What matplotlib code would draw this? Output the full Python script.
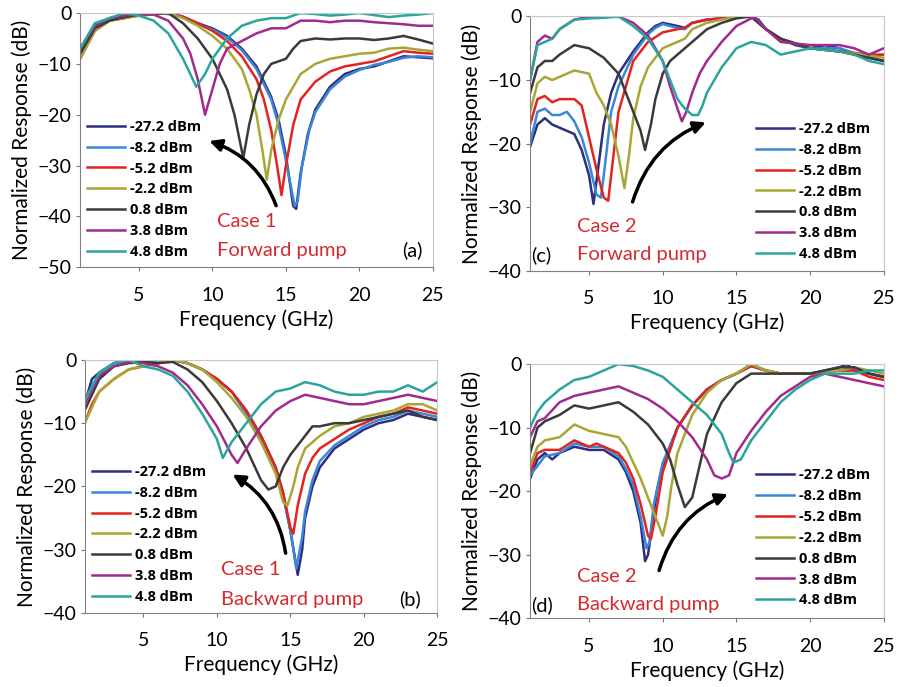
import matplotlib
matplotlib.use("Agg")
import matplotlib.pyplot as plt

plt.rcParams['font.family'] = ['Lato', 'DejaVu Sans']

# pump powers (legend) and line colours
labels = ['-27.2 dBm', '-8.2 dBm', '-5.2 dBm', '-2.2 dBm', '0.8 dBm', '3.8 dBm', '4.8 dBm']
colors = ['#2c2f7e', '#3b86d6', '#e3231f', '#a8a735', '#3a3a3a', '#a12a8e', '#2ba59c']

# ---- (a) Case 1, forward pump: (freq GHz, response dB)
a_m272 = [(1, -8), (2, -3), (3, -1.3), (4, -1), (5, -0.3), (6, -0.2), (7, 0), (8, -0.7), (9, -2), (10, -3),
          (11, -4.5), (12, -7), (13, -10.5), (14, -16.5), (14.5, -21), (15, -28), (15.5, -38), (15.7, -38.5),
          (16, -31.5), (16.5, -23.7), (17, -19), (18, -14.5), (19, -12), (20, -11), (21, -10.5), (22, -9.5),
          (23, -8.5), (24, -8.7), (25, -8.9)]
a_m82 = [(1, -7.5), (2, -2.8), (3, -1.2), (4, -0.9), (5, -0.3), (6, 0), (7, -0.2), (8, -0.8), (9, -2.2), (10, -3.2),
         (11, -4.8), (12, -7.3), (13, -11), (14, -17), (14.5, -22), (15, -29), (15.6, -38), (15.8, -37),
         (16.1, -30), (16.6, -23), (17, -19.5), (18, -15), (19, -12.5), (20, -11.2), (21, -10.2), (22, -9.6),
         (23, -8.8), (24, -8.5), (25, -8.7)]
a_m52 = [(1, -9), (2, -3.5), (3, -1.5), (4, -1), (5, -0.5), (6, -0.2), (7, 0), (8, -0.8), (9, -2), (10, -3.5),
         (11, -5.5), (12, -8.5), (13, -13), (13.5, -17), (14, -23), (14.4, -30), (14.7, -35.8), (15, -30),
         (15.5, -22), (16, -17), (17, -13.5), (18, -11.5), (19, -10.5), (20, -10), (21, -9.5), (22, -8.5),
         (23, -7.5), (24, -7.8), (25, -8)]
a_m22 = [(1, -9), (2, -3.5), (3, -1.5), (4, -1), (5, -0.5), (6, -0.3), (7, 0), (8, -1), (9, -2.5), (10, -4.5),
         (11, -7), (12, -11), (12.5, -15), (13, -20), (13.4, -27), (13.7, -32.8), (14, -27), (14.5, -21),
         (15, -17), (16, -12), (17, -10), (18, -9), (19, -8.5), (20, -8), (21, -7.8), (22, -7), (23, -6.8),
         (24, -7.2), (25, -7.5)]
a_p08 = [(1, -8), (2, -3), (3, -1.5), (4, -0.8), (5, -0.3), (6, -0.2), (7, 0), (8, -2), (9, -5), (10, -9),
         (11, -15), (11.5, -20), (12.1, -28.5), (12.5, -22), (13, -16), (13.5, -12), (14, -10), (15, -9),
         (15.5, -7), (16, -5.5), (17, -5), (18, -5.2), (19, -5), (20, -5), (21, -5.3), (22, -5), (23, -4.5),
         (24, -5.2), (25, -6)]
a_p38 = [(1, -7), (2, -2.5), (3, -1), (4, -0.5), (5, -0.2), (6, -0.3), (7, -1.5), (8, -5), (8.5, -8), (9, -13),
         (9.5, -20), (10, -15), (10.5, -10), (11, -7), (12, -5.5), (13, -4), (14, -3), (15, -3), (16, -1.5),
         (17, -1.5), (18, -1.8), (19, -1.5), (20, -1.5), (21, -1.8), (22, -2), (23, -2.2), (24, -2.5), (25, -2.5)]
a_p48 = [(1, -7), (2, -2), (3, -1), (4, 0), (5, -0.5), (6, -1.5), (7, -4), (8, -9), (8.5, -12), (8.9, -14.5),
         (9.5, -12), (10, -9), (11, -5), (12, -2.5), (13, -1.5), (14, -1), (15, -1), (16, 0), (17, -0.2),
         (18, -0.5), (19, -0.3), (20, 0), (21, -0.4), (22, -0.8), (23, -0.5), (24, -0.3), (25, 0)]

# ---- (b) Case 1, backward pump
b_m272 = [(1, -7), (1.5, -3), (2, -2), (3, -0.5), (4, 0), (5, 0), (6, -0.5), (7, 0), (8, -0.5), (9, -1.5),
          (10, -3), (11, -5), (12, -8), (13, -12), (14, -17), (14.5, -21), (15, -27), (15.5, -34), (15.8, -30),
          (16, -25), (16.5, -20), (17, -17), (18, -14), (19, -12.5), (20, -11), (21, -10), (22, -9.5),
          (23, -8.5), (24, -9), (25, -9.5)]
b_m82 = [(1, -6.5), (2, -2), (3, -0.5), (4, 0), (5, 0), (6, -0.5), (7, 0), (8, -0.5), (9, -1.5), (10, -3),
         (11, -5), (12, -8.5), (13, -12.5), (14, -17.5), (14.5, -21.5), (15, -27), (15.4, -33), (15.8, -28),
         (16, -24), (16.5, -19), (17, -16), (18, -13.5), (19, -12), (20, -10.5), (21, -9.5), (22, -9),
         (23, -8), (24, -8.5), (25, -9)]
b_m52 = [(1, -10), (1.5, -7), (2, -5), (3, -3), (4, -1.5), (5, -1), (6, -0.5), (7, 0), (8, -0.5), (9, -1.5),
         (10, -3), (11, -5), (12, -8), (13, -12), (14, -17), (14.5, -21), (15, -26.5), (15.2, -27.5),
         (15.5, -23), (16, -18), (16.5, -15.5), (17, -14), (18, -12.5), (19, -11), (20, -10), (21, -9),
         (22, -8.5), (23, -7.5), (24, -8), (25, -8.5)]
b_m22 = [(1, -10), (2, -5), (3, -3), (4, -1.5), (5, -1), (6, -0.5), (7, 0), (8, -0.5), (9, -1.5), (10, -3.5),
         (11, -6), (12, -9), (13, -13), (14, -18), (14.5, -22.5), (14.8, -23), (15.2, -20), (15.5, -17),
         (16, -14), (17, -12), (18, -10.5), (19, -10), (20, -9), (21, -8.5), (22, -8), (23, -7), (24, -7),
         (25, -8)]
b_p08 = [(1, -8), (2, -3), (3, -1), (4, -0.5), (5, -0.3), (6, -0.5), (7, -0.3), (8, -1.5), (9, -3.5),
         (10, -6.5), (11, -10), (12, -14), (13, -19), (13.5, -20.5), (14, -20), (14.5, -17), (15, -15),
         (16, -12), (16.5, -10.5), (17, -10.5), (18, -10), (19, -10), (20, -9.5), (21, -9), (22, -8.5),
         (23, -8), (24, -9), (25, -9.5)]
b_p38 = [(1, -7), (2, -2.5), (3, -1), (4, -0.3), (5, -0.5), (6, -1), (7, -2), (8, -4), (9, -7), (10, -10.5),
         (11, -15), (11.4, -16.3), (12, -14), (13, -10.5), (14, -8), (15, -6.5), (16, -5.5), (17, -6),
         (18, -6.5), (19, -7), (20, -7), (21, -6.5), (22, -6), (23, -5.5), (24, -6), (25, -6.5)]
b_p48 = [(1, -6.5), (2, -2), (3, -0.5), (4, 0), (5, -1), (6, -1.5), (7, -2.5), (8, -5), (9, -8.5), (10, -12.5),
         (10.4, -15.5), (11, -13), (12, -10), (13, -7), (14, -5), (15, -4.5), (16, -3.5), (17, -4), (18, -5),
         (19, -5.5), (20, -5.5), (21, -5), (22, -5), (23, -4), (24, -5), (25, -3.5)]

# ---- (c) Case 2, forward pump
c_m272 = [(1, -20.5), (1.5, -17), (2, -16), (2.5, -17), (3, -17.5), (4, -18.5), (4.5, -21), (5, -25),
          (5.3, -29.5), (5.5, -26), (6, -17), (6.5, -12), (7, -9), (8, -5.5), (9, -2.5), (9.5, -1.5), (10, -1),
          (11, -1.5), (11.5, -1.8), (12, -1), (13, -0.5), (14, -0.3), (15, 0), (16, 0), (16.5, -0.5), (17, -2),
          (18, -3.5), (19, -4.5), (20, -5), (21, -4.5), (22, -5), (23, -6), (24, -6.5), (25, -7)]
c_m82 = [(1, -20), (1.5, -15), (2, -14.5), (2.5, -15.5), (3, -15.5), (3.5, -15), (4, -16.5), (4.5, -19),
         (5, -23), (5.5, -28), (5.8, -28.5), (6, -25), (6.5, -15), (7, -11), (8, -6), (9, -2.8), (9.5, -1.8),
         (10, -1.2), (11, -1.8), (11.5, -2), (12, -1), (13, -0.5), (14, -0.3), (15, 0), (16, 0), (17, -2),
         (18, -3.5), (20, -5), (22, -5), (24, -6.5), (25, -6)]
c_m52 = [(1, -17), (1.5, -13), (2, -12.5), (2.5, -13.5), (3, -13), (4, -13), (4.5, -14), (5, -19), (5.5, -24),
         (6, -28.5), (6.3, -29), (6.6, -23), (7, -15), (7.5, -11), (8, -7), (9, -4), (10, -2.5), (11, -2),
         (11.5, -1.8), (12, -1), (13, -0.5), (14, -0.3), (15, 0), (16, 0), (17, -2), (18, -3.5), (20, -5),
         (22, -5.5), (24, -6), (25, -6)]
c_m22 = [(1, -15), (1.5, -10.5), (2, -9.5), (2.5, -10), (3, -9.5), (4, -8.5), (5, -9), (5.5, -12), (6, -14),
         (6.5, -17), (7, -22), (7.4, -27), (7.7, -22), (8, -16), (8.5, -11), (9, -8), (10, -5), (11, -4),
         (11.5, -3.5), (12, -2), (13, -1), (14, -0.5), (15, 0), (16, 0), (17, -2), (18, -3.5), (20, -5),
         (22, -5.5), (25, -6.5)]
c_p08 = [(1, -12), (1.5, -8), (2, -7), (2.5, -7), (3, -6), (4, -4.5), (5, -5), (6, -6.5), (7, -9), (7.5, -12),
         (8, -15), (8.5, -18), (8.8, -21), (9.2, -17), (9.5, -13), (10, -9), (10.5, -7), (11, -6), (12, -4),
         (13, -2), (14, -1), (15, -0.3), (16, 0), (17, -2), (18, -3.5), (20, -5), (22, -5.5), (25, -7)]
c_p38 = [(1, -10), (1.5, -4), (2, -3), (2.5, -3.5), (3, -2), (4, -0.5), (5, 0), (6, 0), (7, 0), (8, -1),
         (9, -3), (10, -7), (10.5, -11), (11, -14.5), (11.3, -16.5), (11.6, -15), (12, -12), (12.5, -9),
         (13, -7), (14, -4), (15, -1.5), (16, -0.3), (16.3, -0.2), (17, -2), (18, -4), (20, -4.5), (22, -4.5),
         (23, -5), (24, -6), (25, -5)]
c_p48 = [(1, -10), (1.5, -4.5), (2, -4), (2.5, -3.5), (3, -2), (4, -0.5), (5, -0.3), (6, -0.2), (7, 0),
         (8, -1.5), (9, -3.5), (10, -7), (10.5, -10), (11, -13), (11.5, -14.5), (12, -15.5), (12.4, -15.5),
         (12.7, -14), (13, -12), (13.5, -10), (14, -8), (15, -5), (16, -4), (17, -4.5), (18, -6), (19, -5.5),
         (20, -5), (22, -5.5), (23, -6), (24, -7), (25, -7.5)]

# ---- (d) Case 2, backward pump
d_m272 = [(1, -18), (1.5, -15), (2, -14), (2.5, -15), (3, -14), (4, -13), (5, -13.5), (6, -13.5), (7, -15),
          (7.5, -17), (8, -20), (8.5, -25), (8.8, -31), (9, -30), (9.3, -25), (9.6, -20), (10, -16), (11, -10),
          (12, -6.5), (13, -4), (14, -2.5), (15, -1.5), (16, -0.3), (17, -1), (18, -1.5), (19, -1.5),
          (20, -1.5), (21, -1), (22, -0.5), (22.5, 0), (23, -1), (24, -1.5), (25, -2)]
d_m82 = [(1, -17.5), (2, -14.5), (3, -14), (4, -12.5), (5, -13), (6, -13), (7, -14.5), (7.5, -16.5), (8, -19),
         (8.5, -24), (8.9, -29), (9.1, -28), (9.4, -22), (10, -15.5), (11, -10), (12, -6.5), (13, -4),
         (14, -2.5), (15, -1.5), (16, 0), (17, -1), (18, -1.5), (20, -1.5), (22, -1), (23, -1), (24, -1.5),
         (25, -2)]
d_m52 = [(1, -17), (1.5, -14), (2, -13.5), (3, -13.5), (4, -12), (5, -13), (5.5, -12.5), (6, -13), (7, -14),
         (7.5, -15.5), (8, -18), (8.5, -22), (9, -27), (9.2, -27.5), (9.5, -24), (10, -17), (11, -10),
         (12, -6.5), (13, -4), (14, -2.5), (15, -1.5), (16, -0.3), (17, -1), (18, -1.5), (20, -1.5), (22, -1),
         (23, -1), (24, -2), (25, -2.5)]
d_m22 = [(1, -16), (1.5, -13), (2, -12), (3, -11.5), (4, -9.5), (5, -10.5), (6, -11), (7, -11.5), (7.5, -13),
         (8, -15.5), (8.5, -18), (9, -21), (9.5, -24), (10, -27), (10.3, -24), (10.6, -19), (11, -14),
         (12, -8), (13, -4.5), (14, -2.5), (15, -1.5), (16, 0), (17, -1), (18, -1.5), (20, -1.5), (22, -1),
         (23, -0.5), (24, -1), (25, -1.5)]
d_p08 = [(1, -14), (1.5, -10), (2, -9), (3, -8), (4, -6.5), (5, -7), (6, -6.5), (7, -6), (8, -7.5), (9, -9.5),
         (10, -12.5), (10.5, -15), (11, -19), (11.5, -22.5), (12, -21), (12.5, -16), (13, -11), (14, -6),
         (15, -3), (16, -1.5), (17, -1.5), (18, -1.5), (20, -1.5), (22, -0.5), (23, -0.5), (24, -1.5),
         (25, -2)]
d_p38 = [(1, -11.5), (1.5, -9), (2, -8.5), (3, -6), (4, -5), (5, -4.5), (6, -4), (7, -3.5), (8, -4.5),
         (9, -5.5), (10, -7), (11, -9), (12, -11.5), (13, -15), (13.5, -17.5), (14, -18), (14.5, -17.5),
         (15, -14), (16, -10.5), (17, -7.5), (18, -5), (19, -3.5), (20, -2), (21, -1.5), (22, -2), (23, -2.5),
         (24, -3), (25, -3.5)]
d_p48 = [(1, -10), (1.5, -7.5), (2, -6), (3, -4), (4, -2.5), (5, -2), (6, -1), (7, 0), (8, -0.3), (9, -1),
         (10, -2), (11, -4), (12, -6), (13, -8), (14, -11), (14.5, -14), (14.8, -15.5), (15.3, -15), (16, -12),
         (17, -9), (18, -6), (19, -4), (20, -2.5), (21, -1.5), (22, -1.5), (23, -1.5), (24, -1), (25, -1)]

panels = [
    # curves, axes rect, ymin, legend anchor, case, pump, tag, case pos, pump pos, tag pos, arrow
    ([a_m272, a_m82, a_m52, a_m22, a_p08, a_p38, a_p48], [0.089, 0.611, 0.392, 0.370], -50, (0.02, 0.58),
     'Case 1', 'Forward pump', '(a)', (10.3, -41.1), (10.3, -46.7), (22.9, -46.7),
     ((14.4, -38.4), (9.6, -25), 0.25)),
    ([b_m272, b_m82, b_m52, b_m22, b_p08, b_p38, b_p48], [0.094, 0.108, 0.392, 0.368], -40, (0.02, 0.585),
     'Case 1', 'Backward pump', '(b)', (10.3, -33.2), (10.3, -37.9), (22.4, -37.9),
     ((14.7, -31), (10.9, -17.9), 0.25)),
    ([c_m272, c_m82, c_m52, c_m22, c_p08, c_p38, c_p48], [0.589, 0.606, 0.393, 0.370], -40, (0.64, 0.585),
     'Case 2', 'Forward pump', '(c)', (4.2, -33.1), (4.2, -37.5), (1.1, -37.5),
     ((7.9, -29.6), (13.1, -16.5), -0.25)),
    ([d_m272, d_m82, d_m52, d_m22, d_p08, d_p38, d_p48], [0.589, 0.100, 0.393, 0.370], -40, (0.64, 0.59),
     'Case 2', 'Backward pump', '(d)', (4.2, -33.4), (4.2, -37.9), (1.1, -37.9),
     ((9.7, -32.9), (14.6, -20.3), -0.25)),
]

red = '#d42b30'
fig = plt.figure(figsize=(9, 6.87), dpi=100)

for curves, rect, ymin, leg_pos, case, pump, tag, case_pos, pump_pos, tag_pos, arrow in panels:
    ax = fig.add_axes(rect)
    for pts, lab, col in zip(curves, labels, colors):
        f = [p[0] for p in pts]
        r = [p[1] for p in pts]
        ax.plot(f, r, color=col, lw=1.8, label=lab)
    ax.set_xlim(1, 25)
    ax.set_ylim(ymin, 0)
    ax.set_xticks([5, 10, 15, 20, 25])
    ax.set_yticks(range(ymin, 1, 10))
    ax.tick_params(axis='both', labelsize=14, length=3, color='#777777')
    ax.tick_params(axis='x', pad=11)
    ax.tick_params(axis='y', pad=3)
    for s in ['top', 'right']:
        ax.spines[s].set_color('#c8c8c8')
    for s in ['left', 'bottom']:
        ax.spines[s].set_color('#808080')
    ax.set_xlabel('Frequency (GHz)', fontsize=15, labelpad=4)
    ax.set_ylabel('Normalized Response (dB)', fontsize=15, labelpad=4)

    ax.legend(loc='upper left', bbox_to_anchor=leg_pos, frameon=False, borderpad=0,
              borderaxespad=0, handlelength=2.6, handletextpad=0.35, labelspacing=0.47,
              prop={'family': 'Open Sans', 'weight': 'bold', 'size': 10.5})

    ax.text(case_pos[0], case_pos[1], case, color=red, fontsize=14.5, va='center', ha='left')
    ax.text(pump_pos[0], pump_pos[1], pump, color=red, fontsize=14.5, va='center', ha='left')
    ax.text(tag_pos[0], tag_pos[1], tag, color='black', fontsize=14.5, va='center', ha='left')

    start, end, rad = arrow
    ax.annotate('', xy=end, xytext=start,
                arrowprops=dict(arrowstyle='-|>,head_length=0.7,head_width=0.35', color='black', lw=2.5,
                                connectionstyle='arc3,rad=%s' % rad))

fig.savefig('out.png', dpi=100)
